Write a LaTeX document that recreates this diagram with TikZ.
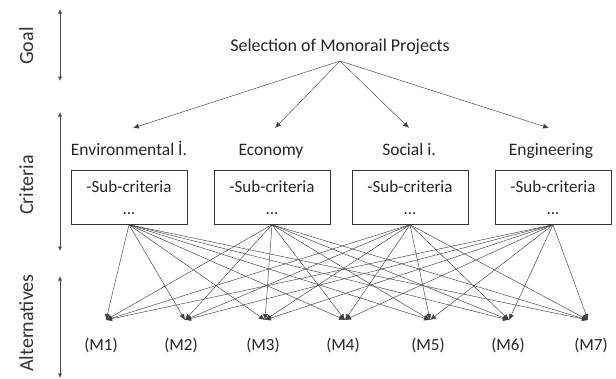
\documentclass[tikz,border=0pt]{standalone}
\usepackage{fontspec}
\setmainfont{Carlito}
\usetikzlibrary{arrows.meta}
\begin{document}
\begin{tikzpicture}[x=1pt,y=-1pt,
  lbl/.style={font=\fontsize{17}{19}\selectfont, text=black!85, anchor=base, inner sep=0pt},
  crit/.style={lbl, font=\fontsize{17.5}{19}\selectfont},
  ttl/.style={lbl, font=\fontsize{18}{20}\selectfont},
  alt/.style={lbl, font=\fontsize{17}{19}\selectfont},
  side/.style={font=\fontsize{20}{22}\selectfont, text=black!80, rotate=90, inner sep=0pt, anchor=base},
  sub/.style={draw=black!80, line width=0.7pt, minimum width=116pt, minimum height=54pt, anchor=north},
  conn/.style={draw=black!75, line width=0.45pt, -{Latex[length=6pt,width=5pt]}},
  sidearr/.style={draw=black!70, line width=0.6pt, {Latex[length=4.5pt,width=4pt]}-{Latex[length=4.5pt,width=4pt]}}]
\useasboundingbox (0,0) rectangle (616,378);
% side arrows
\coordinate (g1) at (60,9); \coordinate (g2) at (60,81);
\coordinate (c1) at (60,112); \coordinate (c2) at (60,251);
\coordinate (a1) at (60,276); \coordinate (a2) at (60,378);
\draw[sidearr] (g1) -- (g2);
\draw[sidearr] (c1) -- (c2);
\draw[sidearr] (a1) -- (a2);
\node[side] (goal) at (33,46) {Goal};
\node[side] (crit) at (33,185) {Criteria};
\node[side] (alts) at (33,323) {Alternatives};
% goal
\node[ttl] (title) at (340,51) {Selection of Monorail Projects};
\coordinate (ts) at (340,61);
% criteria labels
\node[crit] (l1) at (129,155) {Environmental İ.};
\node[crit] (l2) at (271,155) {Economy};
\node[crit] (l3) at (409,155) {Social i.};
\node[crit] (l4) at (551,155) {Engineering};
\coordinate (t1) at (133,128);
\coordinate (t2) at (275,128);
\coordinate (t3) at (409,128);
\coordinate (t4) at (549,128);
\foreach \i in {1,...,4} \draw[conn] (ts) -- (t\i);
% boxes
\node[sub] (b1) at (129,170) {};
\node[sub] (b2) at (272,170) {};
\node[sub] (b3) at (410,170) {};
\node[sub] (b4) at (553,170) {};
\foreach \i/\x in {1/129,2/272,3/410,4/553} {
  \node[lbl] (s\i) at (\x,192) {-Sub-criteria};
  \node[lbl] (d\i) at (\x,214) {...};
}
% alternatives
\foreach \j/\x/\lx in {1/106/101,2/185/181,3/265/263,4/345/343,5/430/428,6/509/508,7/588/591} {
  \coordinate (m\j) at (\x,320);
  \node[alt] (M\j) at (\lx,350) {(M\j)};
}
\foreach \i in {1,...,4}
  \foreach \j in {1,...,7}
    \draw[conn] (b\i.south) -- (m\j);
\end{tikzpicture}
\end{document}
